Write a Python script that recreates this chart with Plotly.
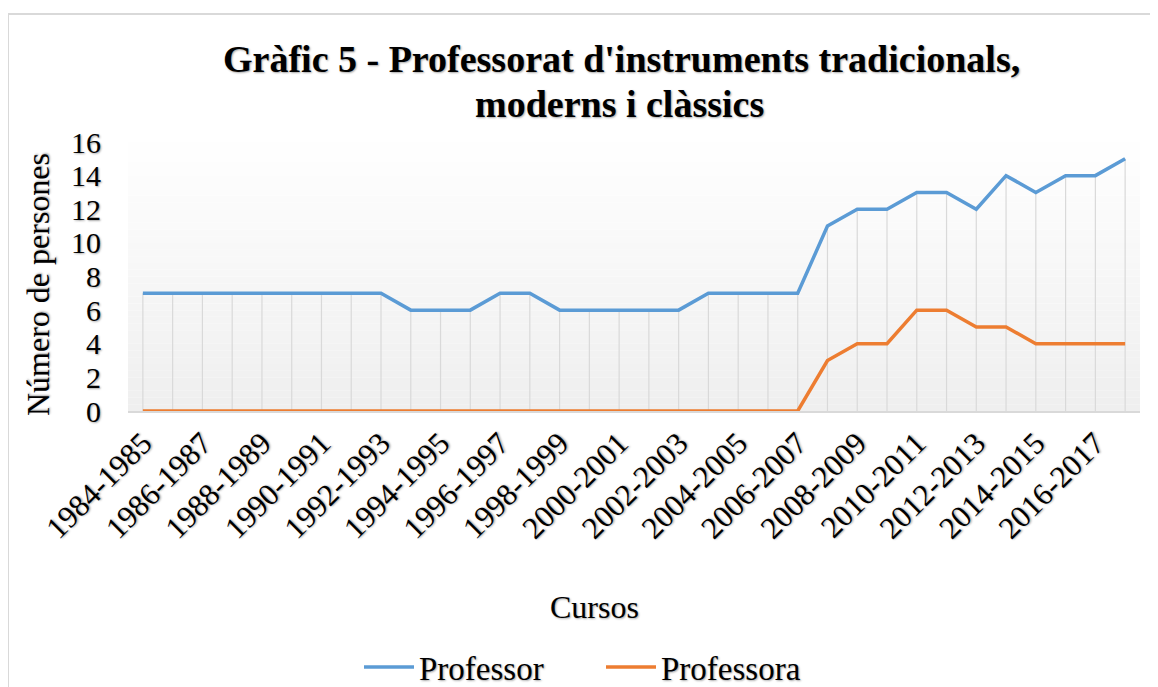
import plotly.graph_objects as go

# ---- Data ----
cursos = [f"{y}-{y+1}" for y in range(1984, 2018)]
professor = [7, 7, 7, 7, 7, 7, 7, 7, 7, 6, 6, 6, 7, 7, 6, 6, 6, 6, 6,
             7, 7, 7, 7, 11, 12, 12, 13, 13, 12, 14, 13, 14, 14, 15]
professora = [0, 0, 0, 0, 0, 0, 0, 0, 0, 0, 0, 0, 0, 0, 0, 0, 0, 0, 0,
              0, 0, 0, 0, 3, 4, 4, 6, 6, 5, 5, 4, 4, 4, 4]
tick_labels = [c if i % 2 == 0 else "" for i, c in enumerate(cursos)]

title_line1 = "Gràfic 5 - Professorat d'instruments tradicionals,"
title_line2 = "moderns i clàssics"
y_title = "Número de persones"
x_title = "Cursos"

# ---- Layout geometry (reference pixels; page body has an 8px margin) ----
OFF = 8
W, H = 1158 - OFF, 687 - OFF
L, R, T, B = 128, 1140, 142, 411
PW, PH = R - L, B - T


def px(x):
    return (x - L) / PW


def py(y):
    return (B - y) / PH


FONT = "Times New Roman, Liberation Serif, serif"
SHADOW = "1px 1px 2px rgba(0,0,0,0.35)"

# drop lines (from the highest series value down to the axis)
drop_x, drop_y = [], []
for c, a, b in zip(cursos, professor, professora):
    drop_x += [c, c, None]
    drop_y += [max(a, b), 0, None]

fig = go.Figure()
fig.add_trace(go.Scatter(x=drop_x, y=drop_y, mode="lines", showlegend=False,
                         hoverinfo="skip", line=dict(color="#d9d9d9", width=1.2)))
fig.add_trace(go.Scatter(x=cursos, y=professor, name="Professor", mode="lines",
                         line=dict(color="#5B9BD5", width=3.5)))
fig.add_trace(go.Scatter(x=cursos, y=professora, name="Professora", mode="lines",
                         line=dict(color="#ED7D31", width=3.5)))

shapes = []
# gradient background in plot area
n = 40
for i in range(n):
    t = (i + 0.5) / n  # 0 bottom -> 1 top
    c = int(239 + 16 * t)
    shapes.append(dict(type="rect", xref="paper", yref="paper",
                       x0=0, x1=1, y0=i / n, y1=(i + 1) / n,
                       fillcolor=f"rgb({c},{c},{c})", line=dict(width=0),
                       layer="below"))
# outer chart border (top and left)
shapes.append(dict(type="line", xref="paper", yref="paper",
                   x0=px(8), x1=px(1170), y0=py(14), y1=py(14),
                   line=dict(color="#d9d9d9", width=2)))
shapes.append(dict(type="line", xref="paper", yref="paper",
                   x0=px(8), x1=px(8), y0=py(14), y1=py(700),
                   line=dict(color="#d9d9d9", width=2)))

annotations = [
    dict(text=f"<b>{title_line1}</b>", xref="paper", yref="paper",
         x=px(621), y=py(59), xanchor="center", yanchor="middle", showarrow=False,
         font=dict(family=FONT, size=38, color="black", shadow=SHADOW)),
    dict(text=f"<b>{title_line2}</b>", xref="paper", yref="paper",
         x=px(619), y=py(104), xanchor="center", yanchor="middle", showarrow=False,
         font=dict(family=FONT, size=38, color="black", shadow=SHADOW)),
    dict(text=y_title, xref="paper", yref="paper", textangle=-90,
         x=px(38), y=py(285), xanchor="center", yanchor="middle", showarrow=False,
         font=dict(family=FONT, size=32, color="black", shadow=SHADOW)),
    dict(text=x_title, xref="paper", yref="paper",
         x=px(594), y=py(607), xanchor="center", yanchor="middle", showarrow=False,
         font=dict(family=FONT, size=32, color="black", shadow=SHADOW)),
]

fig.update_layout(
    width=W, height=H,
    margin=dict(l=L - OFF, r=W - (R - OFF), t=T - OFF, b=H - (B - OFF), autoexpand=False),
    paper_bgcolor="white", plot_bgcolor="rgba(0,0,0,0)",
    shapes=shapes, annotations=annotations,
    showlegend=True,
    legend=dict(orientation="h", x=px(359), y=py(667), xanchor="left",
                yanchor="middle", font=dict(family=FONT, size=33, color="black",
                                             shadow=SHADOW),
                bgcolor="rgba(0,0,0,0)", itemwidth=50,
                entrywidth=177, entrywidthmode="pixels"),
    font=dict(family=FONT, color="black"),
)
fig.update_xaxes(
    type="category", range=[-0.5, len(cursos) - 0.5],
    tickmode="array", tickvals=cursos, ticktext=tick_labels,
    tickangle=-45, tickfont=dict(family=FONT, size=31, color="black", shadow=SHADOW),
    showgrid=False,
    showline=True, linecolor="#d9d9d9", linewidth=1.5,
    ticks="", zeroline=False, fixedrange=True,
)
fig.update_yaxes(
    range=[0, 16], tickmode="linear", tick0=0, dtick=2,
    tickfont=dict(family=FONT, size=30, color="black", shadow=SHADOW),
    showgrid=False, zeroline=False, showline=False, ticks="",
    ticklabelstandoff=26, fixedrange=True,
)

fig.write_html("out.html")
